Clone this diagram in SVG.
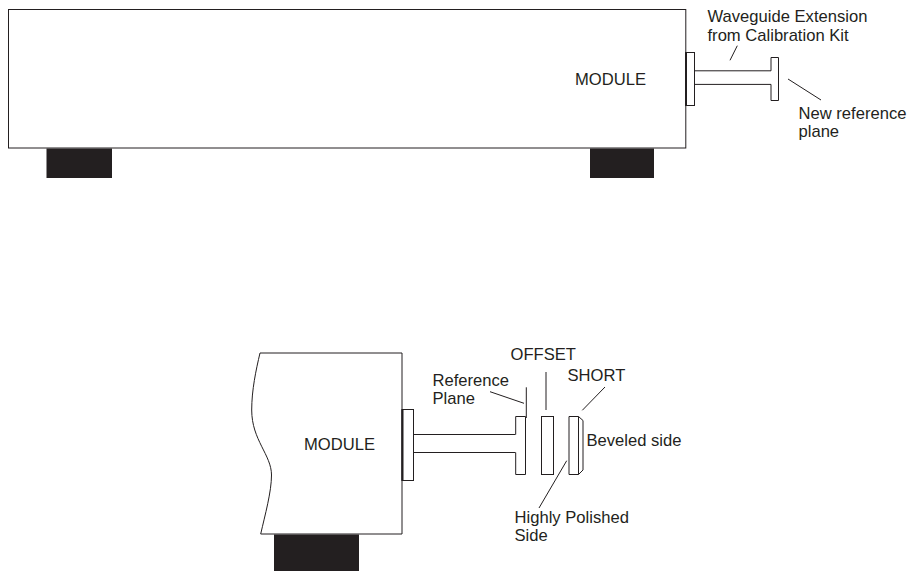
<svg xmlns="http://www.w3.org/2000/svg" width="911" height="571" viewBox="0 0 911 571">
<style>
text{font-family:"Liberation Sans",Arial,sans-serif;font-size:16.6px;fill:#231f20}
.s{fill:#fff;stroke:#231f20;stroke-width:1}
.l{fill:none;stroke:#231f20;stroke-width:1}
.t{fill:none;stroke:#231f20;stroke-width:2}
.f{fill:#231f20}
</style>
<rect width="911" height="571" fill="#fff"/>
<g id="module-top">
<rect class="s" x="8.5" y="9.5" width="677.3" height="138.5"/>
<rect class="f" x="46.5" y="148.5" width="65.5" height="29.5"/>
<rect class="f" x="590" y="148.5" width="64" height="29.5"/>
<text x="575" y="85">MODULE</text>
</g>
<g id="extension-top">
<rect class="s" x="685.5" y="52.5" width="9" height="53"/>
<path class="t" d="M686 52.5V105.5"/>
<path class="l" d="M694.5 70.8H771M694.5 84.4H771"/>
<path class="s" d="M771 70.8V57.5H778.5V100.5H771V84.4"/>
</g>
<g id="label-extension"><text x="707.5" y="21.5">Waveguide Extension</text><text x="707.5" y="40.5">from Calibration Kit</text></g>
<g id="label-new-plane"><text x="798.5" y="119">New reference</text><text x="798.5" y="136.5">plane</text></g>
<g id="module-bottom">
<path class="s" d="M260 353H402V534H260.7C265 515 271.5 492 271.5 475C271.5 455 251.7 440 251.7 410C251.7 390 256 370 260 353Z"/>
<rect class="f" x="274" y="534.5" width="85" height="36.5"/>
<text x="304" y="450">MODULE</text>
</g>
<g id="extension-bottom">
<rect class="s" x="402" y="409.5" width="11.5" height="71"/>
<path class="t" d="M402.5 409.5V480.5"/>
<path class="l" d="M413.5 434.5H515.7M413.5 452.5H515.7"/>
<path class="s" d="M515.7 434.5V416.5H525.5V474.5H515.7V452.5"/>
</g>
<g id="offset"><rect class="s" x="541.5" y="416.5" width="12" height="58"/></g>
<g id="short"><path class="s" d="M569 416.5H578.5L583 420.5V470L578.5 474.5H569Z"/><path class="l" d="M578.5 416.5V474.5"/></g>
<g id="connectors">
<path class="l" d="M737.3 45.7L730 60.3M788 79L821 100M526.3 387.3V418M490 391.7L524 403.3M546 372V410M605 387L582.3 410.3M566.7 460.7L539 508"/>
</g>
<g id="label-offset"><text x="510.5" y="360">OFFSET</text></g>
<g id="label-short"><text x="567.5" y="380.5">SHORT</text></g>
<g id="label-plane"><text x="432.5" y="385.5">Reference</text><text x="432.5" y="403.5">Plane</text></g>
<g id="label-beveled"><text x="586.5" y="446">Beveled side</text></g>
<g id="label-polished"><text x="514.5" y="522.5">Highly Polished</text><text x="514.5" y="540.5">Side</text></g>
</svg>
